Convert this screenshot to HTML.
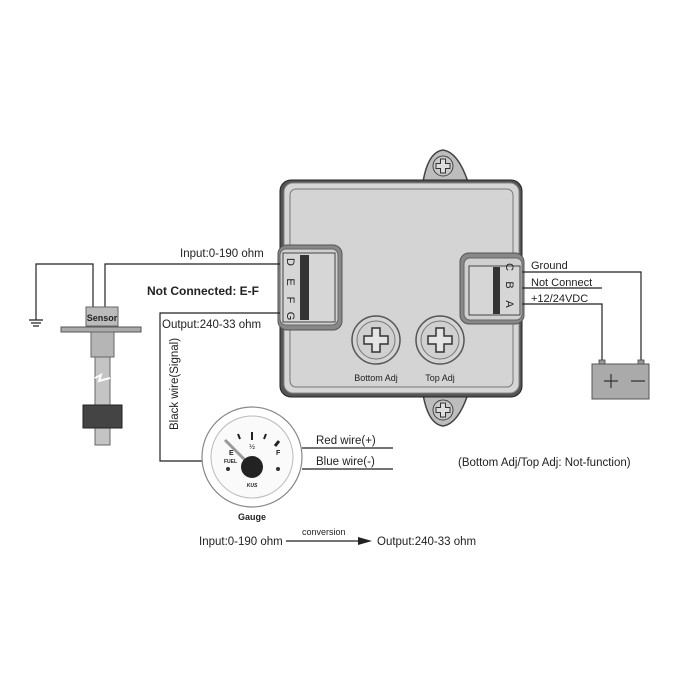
<!DOCTYPE html>
<html><head><meta charset="utf-8"><style>
html,body{margin:0;padding:0;background:#fff;width:700px;height:700px;overflow:hidden}
text{font-family:"Liberation Sans",Arial,sans-serif;fill:#222}
</style></head><body>
<svg width="700" height="700" viewBox="0 0 700 700" xmlns="http://www.w3.org/2000/svg">
<defs>
<g id="screw">
<circle r="24" fill="#d4d4d4" stroke="#555" stroke-width="1.5"/>
<circle r="19" fill="#d0d0d0" stroke="#777" stroke-width="1"/>
<path d="M-4,-12 H4 V-4 H12 V4 H4 V12 H-4 V4 H-12 V-4 H-4 Z" fill="#e4e4e4" stroke="#333" stroke-width="1.5"/>
</g>
<g id="smallscrew">
<circle r="10" fill="#c8c8c8" stroke="#444" stroke-width="1"/>
<path d="M-2.5,-7 H2.5 V-2.5 H7 V2.5 H2.5 V7 H-2.5 V2.5 H-7 V-2.5 H-2.5 Z" fill="#ddd" stroke="#333" stroke-width="1"/>
</g>
</defs>
<g stroke="#222" stroke-width="1.5" fill="none">
<path d="M423,182 Q428,152 443,150 Q458,152 468,182 Z" fill="#bdbdbd" stroke="#444"/>
<path d="M423,394 Q428,424 443,426 Q458,424 468,394 Z" fill="#bdbdbd" stroke="#444"/>
</g>
<use href="#smallscrew" x="443" y="166"/>
<use href="#smallscrew" x="443" y="410"/>
<rect x="280" y="180" width="242" height="217" rx="11" fill="#555" stroke="#222" stroke-width="1"/>
<rect x="284" y="183" width="235" height="210" rx="9" fill="#d6d6d6" stroke="#888" stroke-width="1"/>
<rect x="290" y="189" width="223" height="198" rx="6" fill="#d4d4d4" stroke="#777" stroke-width="1"/>
<rect x="278" y="245" width="64" height="85" rx="9" fill="#888" stroke="#555"/>
<rect x="280" y="249" width="58" height="76" rx="6" fill="#d0d0d0" stroke="#666"/>
<rect x="283" y="253" width="52" height="69" fill="#d6d6d6" stroke="#444"/>
<rect x="300" y="255" width="9" height="65" fill="#333"/>
<g font-size="11" text-anchor="middle">
<text transform="translate(291,262) rotate(90)" y="4">D</text>
<text transform="translate(291,282) rotate(90)" y="4">E</text>
<text transform="translate(291,300) rotate(90)" y="4">F</text>
<text transform="translate(291,316) rotate(90)" y="4">G</text>
</g>
<rect x="460" y="253" width="64" height="71" rx="9" fill="#888" stroke="#555"/>
<rect x="464" y="258" width="58" height="62" rx="6" fill="#d0d0d0" stroke="#666"/>
<rect x="469" y="266" width="51" height="49" fill="#d6d6d6" stroke="#444"/>
<rect x="493" y="267" width="7" height="47" fill="#333"/>
<g font-size="11" text-anchor="middle">
<text transform="translate(510,267) rotate(90)" y="4">C</text>
<text transform="translate(510,285) rotate(90)" y="4">B</text>
<text transform="translate(510,304) rotate(90)" y="4">A</text>
</g>
<use href="#screw" x="376" y="340"/>
<use href="#screw" x="440" y="340"/>
<text x="376" y="381" font-size="9" text-anchor="middle" font-family="Liberation Mono" fill="#333">Bottom Adj</text>
<text x="440" y="381" font-size="9" text-anchor="middle" font-family="Liberation Mono" fill="#333">Top Adj</text>
<g stroke="#222" stroke-width="1.2" fill="none">
<path d="M522,272 H641 V362"/>
<path d="M522,288 H602"/>
<path d="M522,304 H602 V362"/>
</g>
<text x="531" y="269" font-size="11">Ground</text>
<text x="531" y="286" font-size="11">Not Connect</text>
<text x="531" y="302" font-size="11">+12/24VDC</text>
<rect x="599" y="360" width="6" height="5" fill="#999" stroke="#444" stroke-width="0.8"/>
<rect x="638" y="360" width="6" height="5" fill="#999" stroke="#444" stroke-width="0.8"/>
<rect x="592" y="364" width="57" height="35" fill="#aaa" stroke="#555"/>
<path d="M604,381 h14 M611,374 v14 M631,381 h14" stroke="#333" stroke-width="1.2"/>
<g stroke="#222" stroke-width="1.2" fill="none">
<path d="M105,307 V264 H280"/>
<path d="M93,307 V264 H36 V320"/>
<path d="M29,320 h14 M31,323 h10 M33,326 h6"/>
<path d="M280,313 H160 V461 H202"/>
<path d="M302,448 H393 M302,469 H393"/>
</g>
<text x="180" y="257" font-size="11.5">Input:0-190 ohm</text>
<text x="147" y="295" font-size="12" font-weight="bold">Not Connected: E-F</text>
<text x="162" y="328" font-size="11.5">Output:240-33 ohm</text>
<text transform="translate(178,430) rotate(-90)" font-size="11.5">Black wire(Signal)</text>
<text x="316" y="444" font-size="11.5">Red wire(+)</text>
<text x="316" y="465" font-size="11.5">Blue wire(-)</text>
<text x="458" y="466" font-size="11.5">(Bottom Adj/Top Adj: Not-function)</text>
<rect x="86" y="307" width="32" height="19" fill="#bbb" stroke="#666"/>
<text x="102" y="321" font-size="9" text-anchor="middle" font-weight="bold" fill="#333">Sensor</text>
<rect x="61" y="327" width="80" height="5" fill="#aaa" stroke="#555"/>
<rect x="91" y="332" width="23" height="25" fill="#b5b5b5" stroke="#666"/>
<rect x="95" y="357" width="15" height="88" fill="#c4c4c4" stroke="#666"/>
<path d="M95,378 l6,-3 l-2,6 l11,-3" stroke="#fff" stroke-width="2" fill="none"/>
<rect x="83" y="405" width="39" height="23" fill="#444" stroke="#222"/>
<circle cx="252" cy="457" r="50" fill="#fff" stroke="#888" stroke-width="1.2"/>
<circle cx="252" cy="457" r="41" fill="#fafafa" stroke="#bbb" stroke-width="1"/>
<g stroke="#222" stroke-width="2">
<path d="M252,432 v8"/><path d="M238,434 l2,5"/><path d="M266,434 l-2,5"/><path d="M279,441 l-4,5" stroke-width="3"/>
</g>
<path d="M252,467 L225,440" stroke="#999" stroke-width="3"/>
<circle cx="252" cy="467" r="11" fill="#222"/>
<text x="252" y="449" font-size="7" text-anchor="middle">½</text>
<text x="229" y="455" font-size="7" font-weight="bold">E</text>
<text x="224" y="463" font-size="5" font-weight="bold">FUEL</text>
<text x="276" y="455" font-size="7" font-weight="bold">F</text>
<circle cx="228" cy="469" r="2" fill="#333"/><circle cx="278" cy="469" r="2" fill="#333"/>
<text x="252" y="487" font-size="5" font-weight="bold" text-anchor="middle" font-style="italic">KUS</text>
<text x="252" y="520" font-size="9" font-weight="bold" text-anchor="middle">Gauge</text>
<text x="199" y="545" font-size="11.5">Input:0-190 ohm</text>
<text x="302" y="535" font-size="9">conversion</text>
<path d="M286,541 H362" stroke="#222" stroke-width="1.2"/>
<path d="M372,541 L358,537 L358,545 Z" fill="#222"/>
<text x="377" y="545" font-size="11.5">Output:240-33 ohm</text>
</svg>
</body></html>
